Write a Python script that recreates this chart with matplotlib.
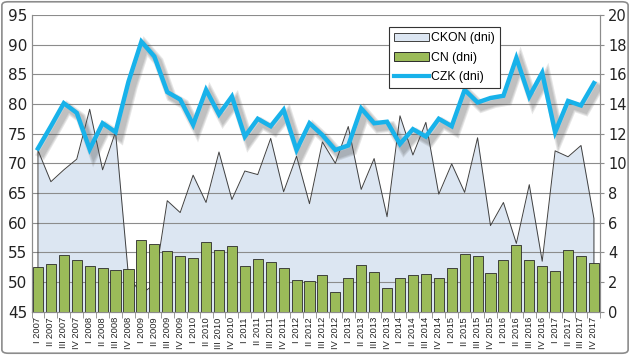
import numpy as np
import matplotlib
matplotlib.use("Agg")
import matplotlib.pyplot as plt
import matplotlib.patheffects as pe
from matplotlib.patches import FancyBboxPatch, Patch
from matplotlib.lines import Line2D

# quarters I 2007 .. IV 2017
years = list(range(2007, 2018))
quarters = ["I", "II", "III", "IV"]
labels = [f"{q} {y}" for y in years for q in quarters]

# CKON (dni) - left axis
ckon = [72.2, 66.9, 68.9, 70.7, 79.1, 68.9, 75.3, 51.0, 48.0, 49.6, 63.7,
        61.7, 68.0, 63.4, 71.9, 63.9, 68.7, 68.1, 74.2, 65.2, 71.2, 63.2,
        73.6, 70.0, 76.2, 65.6, 70.8, 61.0, 78.0, 71.4, 76.9, 64.8, 69.9,
        65.1, 74.3, 59.5, 63.4, 56.5, 66.4, 53.5, 72.1, 71.1, 73.0, 60.7]
# CN (dni) - right axis
cn = [3.03, 3.19, 3.85, 3.46, 3.08, 2.95, 2.79, 2.86, 4.81, 4.54, 4.07,
      3.78, 3.64, 4.68, 4.18, 4.41, 3.10, 3.57, 3.33, 2.97, 2.12, 2.05,
      2.44, 1.32, 2.30, 3.15, 2.66, 1.63, 2.30, 2.50, 2.53, 2.28, 2.93,
      3.87, 3.74, 2.64, 3.47, 4.52, 3.45, 3.09, 2.77, 4.14, 3.74, 3.31]
# CZK (dni) - right axis
czk = [11.0, 12.5, 14.05, 13.4, 10.95, 12.7, 12.1, 15.5, 18.2, 17.2, 14.8,
       14.3, 12.6, 14.95, 13.3, 14.5, 11.8, 13.0, 12.5, 13.6, 10.9, 12.7,
       11.9, 10.9, 11.2, 13.7, 12.7, 12.8, 11.3, 12.3, 11.8, 13.0, 12.5,
       14.95, 14.1, 14.4, 14.55, 17.1, 14.5, 16.1, 12.1, 14.2, 13.9, 15.4]

x = np.arange(len(labels))

fig = plt.figure(figsize=(6.3, 3.55), dpi=100)
ax = fig.add_axes([0.05, 0.122, 0.903, 0.836])
ax2 = ax.twinx()

# area (left axis)
ax.fill_between(x, 45, ckon, color="#DCE6F2", zorder=1, lw=0)
ax.plot(np.r_[x[0], x, x[-1]], np.r_[45, ckon, 45], color="#404040",
        lw=0.7, zorder=3)
ax.set_ylim(45, 95)
ax.set_yticks(range(45, 96, 5))
for v in range(50, 96, 5):
    ax.axhline(v, color="#8C8C8C", lw=0.8, zorder=2)

# bars + line (right axis)
ax2.bar(x, cn, width=0.78, color="#9BBB59", edgecolor="#2B2B2B", lw=0.6,
        zorder=2)
shadow = [pe.SimpleLineShadow(offset=(3, -3.5), shadow_color="#555555",
                              alpha=0.14, linewidth=w) for w in (7.5, 6, 4.5)]
ax2.plot(x, czk, color="#18B2EA", lw=3.2, zorder=3, solid_joinstyle="miter",
         path_effects=shadow + [pe.Normal()])
ax2.set_ylim(0, 20)
ax2.set_yticks(range(0, 21, 2))

ax.set_xlim(-0.5, len(x) - 0.5)
ax.set_xticks(x)
ax.set_xticklabels(labels, rotation=90, fontsize=6.7, family="Liberation Sans",
                   color="#222222")
ax.set_xticks(np.arange(-0.5, len(x), 1), minor=True)
ax.tick_params(axis="x", which="major", length=0, pad=4)
ax.tick_params(axis="x", which="minor", length=4, color="#8C8C8C")
ax.tick_params(axis="y", length=0, labelsize=11, pad=3, colors="#222222")
ax2.tick_params(axis="y", length=3, labelsize=10.5, pad=2.5, colors="#222222")
ax2.tick_params(axis="y", color="#8C8C8C")

for a in (ax, ax2):
    a.spines["top"].set_visible(False)
    for s in ("left", "right", "bottom"):
        a.spines[s].set_color("#8C8C8C")
        a.spines[s].set_linewidth(0.8)

# legend
handles = [Patch(facecolor="#DCE6F2", edgecolor="#404040", lw=0.7),
           Patch(facecolor="#9BBB59", edgecolor="#2B2B2B", lw=0.7),
           Line2D([], [], color="#18B2EA", lw=3)]
leg = ax2.legend(handles, ["CKON (dni)", "CN (dni)", "CZK (dni)"],
                 loc="upper left", bbox_to_anchor=(0.628, 0.958),
                 prop={"family": "Liberation Sans", "size": 8.8},
                 frameon=True, fancybox=False, edgecolor="#333333",
                 framealpha=1, borderpad=0.4, labelspacing=0.6,
                 handlelength=2.9, handletextpad=0.15, borderaxespad=0)
leg.get_frame().set_linewidth(0.8)

fig.patches.append(FancyBboxPatch((0.003, 0.005), 0.994, 0.99,
                                  boxstyle="round,pad=0,rounding_size=0.01",
                                  transform=fig.transFigure, fill=False,
                                  edgecolor="#8C8C8C", lw=1.2))

fig.savefig("out.png", dpi=100)
